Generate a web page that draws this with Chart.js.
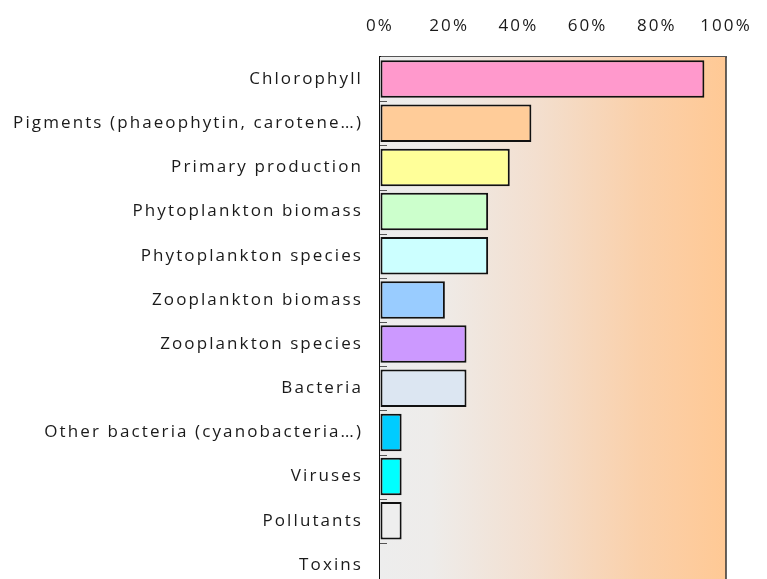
<!DOCTYPE html>
<html>
<head>
<meta charset="utf-8">
<script src="https://cdn.jsdelivr.net/npm/chart.js@4/dist/chart.umd.min.js"></script>
<style>
  html, body { margin: 0; padding: 0; overflow: hidden; background: #fff; }
  canvas { display: block; }
</style>
</head>
<body>
<canvas id="chart" width="767" height="588"></canvas>
<script>
const categories = [
  'Chlorophyll',
  'Pigments (phaeophytin, carotene…)',
  'Primary production',
  'Phytoplankton biomass',
  'Phytoplankton species',
  'Zooplankton biomass',
  'Zooplankton species',
  'Bacteria',
  'Other bacteria (cyanobacteria…)',
  'Viruses',
  'Pollutants',
  'Toxins'
];
const shares = [93.75, 43.75, 37.5, 31.25, 31.25, 18.75, 25, 25, 6.25, 6.25, 6.25, 0];
const barColors = [
  '#FF99CC', '#FFCC99', '#FFFF99', '#CCFFCC', '#CCFFFF', '#99CCFF',
  '#CC99FF', '#DCE6F2', '#00CCFF', '#00FFFF', '#EEEEEE', '#EEEEEE'
];
const xTicks = [0, 20, 40, 60, 80, 100];

// gradient background + frame + small category tick marks
const plotDecor = {
  id: 'plotDecor',
  beforeUpdate(chart) {
    chart.ctx.letterSpacing = '2.1px';
  },
  beforeDraw(chart) {
    chart.ctx.letterSpacing = '2.1px';
  },
  beforeDatasetsDraw(chart) {
    const { ctx, chartArea: a } = chart;
    const g = ctx.createLinearGradient(a.left, 0, a.right, 0);
    g.addColorStop(0, '#EDEDED');
    g.addColorStop(0.15, '#EEECEA');
    g.addColorStop(0.45, '#F3DFCF');
    g.addColorStop(0.75, '#FAD0AA');
    g.addColorStop(1, '#FFC995');
    ctx.save();
    ctx.fillStyle = g;
    ctx.fillRect(a.left, a.top, a.right - a.left, a.bottom - a.top);
    ctx.restore();
  },
  afterDraw(chart) {
    const { ctx, chartArea: a } = chart;
    const y = chart.scales.y;
    const band = y.getPixelForValue(1) - y.getPixelForValue(0);
    ctx.save();
    ctx.strokeStyle = '#333';
    ctx.lineWidth = 1.5;
    ctx.beginPath();
    ctx.moveTo(a.right, a.top);
    ctx.lineTo(a.right, a.bottom);
    ctx.stroke();
    ctx.strokeStyle = '#555';
    ctx.lineWidth = 1;
    for (let i = 0; i < categories.length; i++) {
      const yy = Math.round(y.getPixelForValue(i) + band / 2) + 0.5;
      ctx.beginPath();
      ctx.moveTo(a.left, yy);
      ctx.lineTo(a.left + 7, yy);
      ctx.stroke();
    }
    ctx.restore();
  }
};

new Chart(document.getElementById('chart'), {
  type: 'bar',
  data: {
    labels: categories,
    datasets: [{
      data: shares,
      backgroundColor: barColors,
      borderColor: '#111',
      borderWidth: 2,
      borderSkipped: false,
      barPercentage: 0.85,
      categoryPercentage: 1
    }]
  },
  plugins: [plotDecor],
  options: {
    indexAxis: 'y',
    responsive: false,
    animation: false,
    layout: { padding: { top: 0, right: 41, bottom: 1, left: 0 } },
    plugins: { legend: { display: false }, tooltip: { enabled: false } },
    scales: {
      x: {
        position: 'top',
        min: 0,
        max: 100,
        afterBuildTicks: s => { s.ticks = xTicks.map(v => ({ value: v })); },
        afterFit: s => { s.height = 57; s.paddingLeft = 0; s.paddingRight = 0; },
        ticks: {
          callback: v => v + '%',
          color: '#1a1a1a',
          font: { family: 'Open Sans', size: 17 },
          padding: 21
        },
        grid: {
          color: c => (c.tick && (c.tick.value === 0 || c.tick.value === 100)) ? 'rgba(0,0,0,0)' : '#C8C8C8',
          lineWidth: 1,
          drawTicks: false
        },
        border: { color: '#555', width: 1.5, dash: [6, 5] }
      },
      y: {
        afterFit: s => { s.width = 380; s.paddingTop = 0; s.paddingBottom = 0; },
        ticks: {
          color: '#1a1a1a',
          font: { family: 'Open Sans', size: 17 },
          padding: 9
        },
        grid: { display: false },
        border: { color: '#111', width: 2 }
      }
    }
  }
});
</script>
</body>
</html>
